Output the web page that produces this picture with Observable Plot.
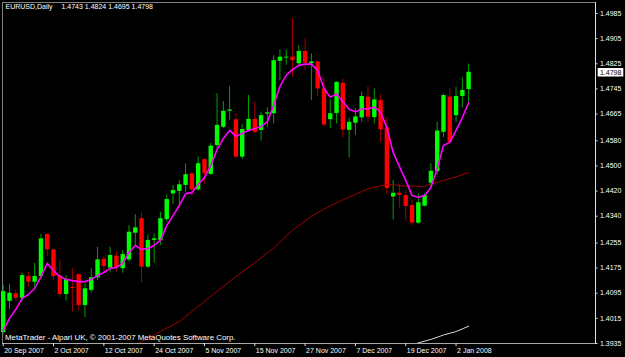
<!DOCTYPE html>
<html><head><meta charset="utf-8">
<script src="https://cdn.jsdelivr.net/npm/d3@7"></script>
<script src="https://cdn.jsdelivr.net/npm/@observablehq/plot@0.6"></script>
<style>
html,body{margin:0;padding:0;background:#000;overflow:hidden;}
#chart svg{display:block;}
</style></head><body><div id="chart"></div>
<script>
const symbol = "EURUSD,Daily";
const copyright = "MetaTrader - Alpari UK, \u00a9 2001-2007 MetaQuotes Software Corp.";

const dates = [
"2007-09-20","2007-09-21","2007-09-24","2007-09-25","2007-09-26","2007-09-27","2007-09-28",
"2007-10-01","2007-10-02","2007-10-03","2007-10-04","2007-10-05","2007-10-08","2007-10-09","2007-10-10","2007-10-11","2007-10-12",
"2007-10-15","2007-10-16","2007-10-17","2007-10-18","2007-10-19","2007-10-22","2007-10-23","2007-10-24","2007-10-25","2007-10-26",
"2007-10-29","2007-10-30","2007-10-31","2007-11-01","2007-11-02","2007-11-05","2007-11-06","2007-11-07","2007-11-08","2007-11-09",
"2007-11-12","2007-11-13","2007-11-14","2007-11-15","2007-11-16","2007-11-19","2007-11-20","2007-11-21","2007-11-22","2007-11-23",
"2007-11-26","2007-11-27","2007-11-28","2007-11-29","2007-11-30","2007-12-03","2007-12-04","2007-12-05","2007-12-06","2007-12-07",
"2007-12-10","2007-12-11","2007-12-12","2007-12-13","2007-12-14","2007-12-17","2007-12-18","2007-12-19","2007-12-20","2007-12-21",
"2007-12-24","2007-12-26","2007-12-27","2007-12-28","2007-12-31","2008-01-02","2008-01-03","2008-01-04"];

const open = [
1.3970,1.4069,1.4093,1.4079,1.4148,1.4130,1.4148,1.4282,1.4233,1.4151,
1.4091,1.4113,1.4154,1.4056,1.4104,1.4144,1.4203,1.4175,1.4213,1.4173,
1.4201,1.4286,1.4332,1.4178,1.4263,1.4263,1.4329,1.4411,1.4419,1.4438,
1.4475,1.4424,1.4520,1.4473,1.4565,1.4623,1.4674,1.4647,1.4528,1.4613,
1.4648,1.4613,1.4665,1.4666,1.4833,1.4843,1.4846,1.4825,1.4864,1.4825,
1.4831,1.4745,1.4647,1.4667,1.4763,1.4613,1.4636,1.4653,1.4719,1.4654,
1.4708,1.4621,1.4401,1.4413,1.4406,1.4374,1.4318,1.4372,1.4445,1.4482,
1.4607,1.4719,1.4660,1.4721,1.4743];
const high = [
1.4120,1.4123,1.4104,1.4159,1.4162,1.4190,1.4282,1.4284,1.4236,1.4201,
1.4151,1.4173,1.4157,1.4125,1.4173,1.4241,1.4212,1.4241,1.4226,1.4231,
1.4310,1.4345,1.4353,1.4279,1.4284,1.4353,1.4406,1.4438,1.4454,1.4507,
1.4477,1.4528,1.4522,1.4571,1.4730,1.4705,1.4753,1.4666,1.4632,1.4724,
1.4703,1.4671,1.4685,1.4851,1.4869,1.4869,1.4969,1.4883,1.4905,1.4857,
1.4832,1.4778,1.4711,1.4767,1.4775,1.4652,1.4682,1.4735,1.4751,1.4745,
1.4727,1.4655,1.4454,1.4438,1.4422,1.4390,1.4411,1.4411,1.4507,1.4639,
1.4729,1.4745,1.4750,1.4780,1.4824];
const low = [
1.3962,1.4042,1.4069,1.4066,1.4114,1.4114,1.4138,1.4212,1.4138,1.4082,
1.4070,1.4035,1.4040,1.4017,1.4095,1.4135,1.4162,1.4162,1.4162,1.4159,
1.4194,1.4247,1.4127,1.4174,1.4190,1.4247,1.4321,1.4377,1.4374,1.4416,
1.4403,1.4419,1.4443,1.4470,1.4555,1.4618,1.4645,1.4525,1.4520,1.4610,
1.4602,1.4579,1.4621,1.4634,1.4772,1.4820,1.4782,1.4814,1.4804,1.4708,
1.4719,1.4625,1.4618,1.4634,1.4590,1.4526,1.4597,1.4639,1.4639,1.4634,
1.4575,1.4410,1.4328,1.4366,1.4324,1.4309,1.4314,1.4369,1.4432,1.4470,
1.4590,1.4570,1.4639,1.4685,1.4695];
const close = [
1.4100,1.4095,1.4079,1.4151,1.4130,1.4148,1.4268,1.4233,1.4148,1.4091,
1.4138,1.4110,1.4056,1.4109,1.4144,1.4201,1.4180,1.4215,1.4175,1.4218,
1.4289,1.4303,1.4178,1.4263,1.4268,1.4332,1.4393,1.4422,1.4440,1.4472,
1.4424,1.4507,1.4475,1.4563,1.4629,1.4674,1.4678,1.4528,1.4616,1.4648,
1.4607,1.4660,1.4669,1.4835,1.4846,1.4846,1.4835,1.4864,1.4827,1.4831,
1.4745,1.4630,1.4666,1.4766,1.4614,1.4639,1.4656,1.4721,1.4655,1.4710,
1.4615,1.4428,1.4413,1.4406,1.4371,1.4318,1.4383,1.4406,1.4483,1.4611,
1.4724,1.4575,1.4721,1.4740,1.4798];

// fast moving average (magenta), one value per bar
const maFast = [
1.3976,1.4015,1.4043,1.4078,1.4091,1.4110,1.4148,1.4190,1.4167,1.4148,
1.4139,1.4135,1.4132,1.4132,1.4139,1.4151,1.4161,1.4174,1.4177,1.4190,
1.4225,1.4247,1.4234,1.4237,1.4247,1.4263,1.4310,1.4342,1.4374,1.4412,
1.4415,1.4441,1.4463,1.4501,1.4552,1.4587,1.4613,1.4594,1.4603,1.4613,
1.4619,1.4625,1.4641,1.4692,1.4753,1.4788,1.4807,1.4820,1.4824,1.4824,
1.4804,1.4746,1.4719,1.4729,1.4705,1.4680,1.4672,1.4681,1.4682,1.4687,
1.4671,1.4622,1.4543,1.4498,1.4454,1.4406,1.4400,1.4406,1.4431,1.4492,
1.4565,1.4575,1.4613,1.4654,1.4701];
// slow moving average (dark red), read at these bars
const maSlowBar = [21,22,25,28,31,34,37,40,43,46,49,52,55,58,61,64,67,70,72,74];
const maSlow = [1.3930,1.3941,1.3973,1.4005,1.4053,1.4101,1.4148,1.4192,1.4239,1.4295,
1.4340,1.4373,1.4401,1.4427,1.4442,1.4436,1.4435,1.4454,1.4465,1.4479];
// long moving average (white), read at these bars
const maLongBar = [65,66,68,70,72,74];
const maLong = [1.3930,1.3937,1.3948,1.3962,1.3973,1.3990];

const xTickBars = [0,8,16,24,32,40,48,56,64,72];
const xTickLabels = ["20 Sep 2007","2 Oct 2007","12 Oct 2007","24 Oct 2007","5 Nov 2007",
"15 Nov 2007","27 Nov 2007","7 Dec 2007","19 Dec 2007","2 Jan 2008"];
const yTicks = [1.4985,1.4905,1.4825,1.4745,1.4665,1.4580,1.4500,1.4420,1.4340,1.4255,1.4175,1.4095,1.4015,1.3935];
const yTickLabels = ["1.4985","1.4905","1.4825","1.4745","1.4665","1.4580","1.4500","1.4420","1.4340","1.4255","1.4175","1.4095","1.4015","1.3935"];

const bars = dates.map((d, i) => ({i, date: d, open: open[i], high: high[i], low: low[i], close: close[i], up: close[i] >= open[i]}));
const fast = maFast.map((v, i) => ({i, v}));
const slow = maSlowBar.map((b, k) => ({i: b, v: maSlow[k]}));
const longMa = maLongBar.map((b, k) => ({i: b, v: maLong[k]}));
const last = bars[bars.length - 1];

const xDomain = [-0.11, 94.17];
const yDomain = [1.3935, 1.5020];
const fmt = v => v.toFixed(4);

const chart = Plot.plot({
  width: 625, height: 357,
  marginLeft: 2, marginRight: 30, marginTop: 2, marginBottom: 14,
  x: {domain: xDomain, axis: null},
  y: {domain: yDomain, axis: null},
  color: {type: "identity"},
  style: {background: "#000", color: "#fff", fontFamily: "'Liberation Sans', Arial, sans-serif", fontSize: "7px"},
  marks: [
    Plot.ruleY([yDomain[1]], {stroke: "#808080"}),
    Plot.ruleX([xDomain[0]], {stroke: "#808080"}),
    // wicks
    Plot.ruleX(bars, {x: "i", y1: "low", y2: "high", stroke: d => d.up ? "#00a000" : "#a00000", strokeWidth: 1}),
    // bodies
    Plot.ruleX(bars, {x: "i", y1: "open", y2: "close", stroke: d => d.up ? "#00ff00" : "#ff0000", strokeWidth: 4.4}),
    // indicators
    Plot.line(slow, {x: "i", y: "v", stroke: "#a00000", strokeWidth: 1, clip: true}),
    Plot.line(longMa, {x: "i", y: "v", stroke: "#d8d8d8", strokeWidth: 1, clip: true}),
    Plot.line(fast, {x: "i", y: "v", stroke: "#ff00ff", strokeWidth: 1.6}),
    // axes
    Plot.ruleX([xDomain[1]], {stroke: "#e0e0e0", y1: yDomain[0], y2: yDomain[1]}),
    Plot.ruleY([yDomain[0]], {stroke: "#a8a8a8"}),
    Plot.ruleY(yTicks, {x1: xDomain[1], x2: xDomain[1] + 0.4, stroke: "#e0e0e0"}),
    Plot.text(yTicks, {y: d => d, text: (d, k) => yTickLabels[k], frameAnchor: "right", dx: 4.5, textAnchor: "start", fill: "#fff"}),
    Plot.ruleX(xTickBars, {x: d => d, y1: yDomain[0], y2: yDomain[0] - 0.001, stroke: "#e0e0e0"}),
    Plot.text(xTickBars, {x: d => d, y: () => yDomain[0], text: (d, k) => xTickLabels[k], dy: 7.5, dx: 1, textAnchor: "start", lineAnchor: "middle", fill: "#fff"}),
    // current price box
    Plot.ruleY([last], {y: "close", x1: xDomain[1] + 0.42, x2: xDomain[1] + 4.5, stroke: "#fff", strokeWidth: 8.5}),
    Plot.text([last], {y: "close", text: d => fmt(d.close), frameAnchor: "right", dx: 4.5, textAnchor: "start", fill: "#000"}),
    // title and copyright
    Plot.text([symbol], {frameAnchor: "top-left", dx: 3, dy: 4.7, lineAnchor: "middle", textAnchor: "start", fill: "#fff"}),
    Plot.text([last], {text: d => [d.open, d.high, d.low, d.close].map(fmt).join(" "), frameAnchor: "top-left", dx: 59, dy: 4.7, lineAnchor: "middle", textAnchor: "start", fill: "#fff"}),
    Plot.text([copyright], {frameAnchor: "bottom-left", dx: 2.5, dy: -6.5, lineAnchor: "middle", textAnchor: "start", fill: "#fff", fontSize: 7.9})
  ]
});
document.getElementById("chart").appendChild(chart);
</script>
</body></html>
